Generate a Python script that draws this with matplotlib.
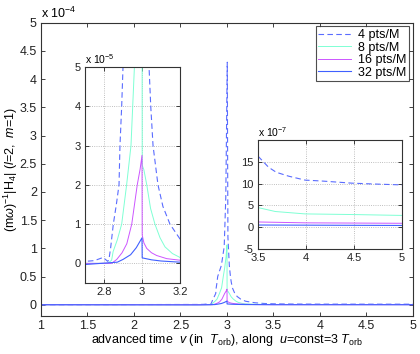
import numpy as np
import matplotlib.pyplot as plt
from matplotlib.ticker import FormatStrFormatter

plt.rcParams['font.family'] = ['Liberation Sans', 'DejaVu Sans']
plt.rcParams['mathtext.fontset'] = 'custom'
plt.rcParams['mathtext.rm'] = 'Liberation Sans'
plt.rcParams['mathtext.it'] = 'Liberation Sans:italic'

# |H4| along u=const=3 T_orb (in units of 1e-5)
v_4pts = [1.0, 2.7, 2.75, 2.795, 2.82, 2.826, 2.835, 2.849, 2.865, 2.879, 2.884, 2.893, 2.90, 2.94,
          2.97, 2.987, 3.003, 3.01, 3.025, 3.037, 3.046, 3.058, 3.084, 3.11, 3.147, 3.2, 3.3, 3.4,
          3.5, 3.61, 3.69, 3.82, 3.99, 4.16, 4.48, 4.72, 5.0]
h_4pts = [0.0, 0.05, 0.07, 0.15, 0.05, 0.1, 0.4, 1.0, 1.5, 2.0, 3.0, 4.0, 5.0, 7.0,
          10.3, 19.0, 43.0, 12.0, 7.0, 5.0, 4.0, 3.0, 2.0, 1.45, 1.0, 0.62, 0.35, 0.22,
          0.163, 0.1375, 0.126, 0.117, 0.108, 0.106, 0.101, 0.099, 0.097]

v_8pts = [1.0, 2.7, 2.82, 2.84, 2.848, 2.87, 2.893, 2.919, 2.925, 2.942, 2.96, 2.975, 2.99, 3.0,
          3.001, 3.01, 3.025, 3.045, 3.068, 3.095, 3.121, 3.16, 3.2, 3.3, 3.5, 3.68, 3.99, 4.5, 5.0]
h_8pts = [0.0, 0.0, 0.0, 0.08, 0.3, 0.6, 1.0, 2.0, 2.26, 3.0, 5.0, 6.5, 8.5, 10.6,
          2.5, 2.38, 2.0, 1.4, 1.0, 0.65, 0.42, 0.25, 0.15, 0.08, 0.045, 0.036, 0.0305, 0.029, 0.027]

v_16pts = [1.0, 2.7, 2.84, 2.867, 2.895, 2.92, 2.946, 2.975, 2.99, 3.0, 3.001, 3.01, 3.025, 3.05,
           3.077, 3.13, 3.2, 3.3, 3.5, 4.0, 5.0]
h_16pts = [0.0, 0.0, 0.0, 0.1, 0.27, 0.5, 1.0, 2.0, 2.4, 2.75, 0.72, 0.52, 0.38, 0.27,
           0.2, 0.12, 0.08, 0.03, 0.012, 0.01, 0.009]

v_32pts = [1.0, 2.7, 2.87, 2.9, 2.94, 2.97, 3.0, 3.001, 3.05, 3.1, 3.2, 3.5, 5.0]
h_32pts = [0.0, -0.03, 0.03, 0.1, 0.22, 0.4, 0.65, 0.14, 0.09, 0.06, 0.03, 0.005, 0.004]

labels = ['4 pts/M', '8 pts/M', '16 pts/M', '32 pts/M']
unit = 1e-5  # the h_ lists above are in units of 1e-5

series = [(v_4pts, h_4pts, dict(color='#5a6cff', lw=0.8, ls=(0, (5, 3)))),
          (v_8pts, h_8pts, dict(color='#7fffd4', lw=0.7, ls='-')),
          (v_16pts, h_16pts, dict(color='#cc55ff', lw=0.7, ls='-')),
          (v_32pts, h_32pts, dict(color='#4060ff', lw=0.8, ls='-'))]


def style(ax, fs):
    ax.tick_params(direction='in', length=3, width=0.6, labelsize=fs, top=True, right=True,
                   pad=3, colors='#222222')
    for s in ax.spines.values():
        s.set_linewidth(0.8)
        s.set_color('#333333')
    ax.yaxis.set_major_formatter(FormatStrFormatter('%g'))
    ax.xaxis.set_major_formatter(FormatStrFormatter('%g'))


fig = plt.figure(figsize=(4.2, 3.54), dpi=100)

# main axes, scaled by 1e-4
ax = fig.add_axes([0.0976, 0.1073, 0.8857, 0.8285])
for (v, h, kw), lab in zip(series, labels):
    ax.plot(v, np.array(h) * unit / 1e-4, label=lab, **kw)
ax.set_xlim(1, 5)
ax.set_ylim(-0.2, 5)
ax.set_xticks(np.arange(1, 5.01, 0.5))
ax.set_yticks(np.arange(0, 5.01, 0.5))
style(ax, 9)
ax.text(0.0, 1.005, r'x 10$^{-4}$', transform=ax.transAxes, fontsize=9, va='bottom', ha='left')
ax.set_xlabel(r'advanced time  $v$ (in  $T_{\rm orb}$), along  $u$=const=3 $T_{\rm orb}$',
              fontsize=9, labelpad=0)
ax.set_ylabel(r'(m$\omega$)$^{-1}$|H$_4$| ($l$=2,  $m$=1)', fontsize=9, labelpad=0)
leg = ax.legend(loc='upper right', fontsize=9, frameon=True, fancybox=False,
                borderaxespad=0.3, handlelength=2.6, labelspacing=0.05, borderpad=0.2,
                handletextpad=0.6)
leg.get_frame().set_edgecolor('#222222')
leg.get_frame().set_linewidth(0.8)

# inset around the peak, scaled by 1e-5
ax1 = fig.add_axes([0.2024, 0.2006, 0.2262, 0.610])
for v, h, kw in series:
    ax1.plot(v, np.array(h) * unit / 1e-5, **kw)
ax1.set_xlim(2.7, 3.2)
ax1.set_ylim(-0.5, 5)
ax1.set_xticks([2.8, 3.0, 3.2])
ax1.set_yticks([0, 1, 2, 3, 4, 5])
ax1.grid(True, ls=':', lw=0.6, color='#aaaaaa')
style(ax1, 8)
ax1.text(0.0, 1.005, r'x 10$^{-5}$', transform=ax1.transAxes, fontsize=7.5, va='bottom', ha='left')

# inset for the tail, scaled by 1e-7
ax2 = fig.add_axes([0.6143, 0.2966, 0.3429, 0.3079])
for v, h, kw in series:
    ax2.plot(v, np.array(h) * unit / 1e-7, **kw)
ax2.set_xlim(3.5, 5)
ax2.set_ylim(-5, 20)
ax2.set_xticks([3.5, 4, 4.5, 5])
ax2.set_yticks([-5, 0, 5, 10, 15])
ax2.grid(True, ls=':', lw=0.6, color='#aaaaaa')
style(ax2, 8)
ax2.text(0.0, 1.005, r'x 10$^{-7}$', transform=ax2.transAxes, fontsize=7.5, va='bottom', ha='left')

fig.savefig('out.png', dpi=100)
